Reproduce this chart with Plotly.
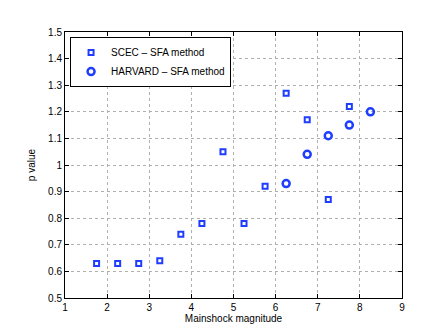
import plotly.graph_objects as go

# SCEC - SFA method
scec_mag = [1.75, 2.25, 2.75, 3.25, 3.75, 4.25, 4.75, 5.25, 5.75, 6.25, 6.75, 7.25, 7.75]
scec_p = [0.63, 0.63, 0.63, 0.64, 0.74, 0.78, 1.05, 0.78, 0.92, 1.27, 1.17, 0.87, 1.22]

# HARVARD - SFA method
harv_mag = [6.25, 6.75, 7.25, 7.75, 8.25]
harv_p = [0.93, 1.04, 1.11, 1.15, 1.20]

y_ticks = [0.5, 0.6, 0.7, 0.8, 0.9, 1.0, 1.1, 1.2, 1.3, 1.4, 1.5]
y_labels = ["0.5", "0.6", "0.7", "0.8", "0.9", "1", "1.1", "1.2", "1.3", "1.4", "1.5"]

blue = "#1f3dff"

fig = go.Figure()
fig.add_trace(go.Scatter(x=scec_mag, y=scec_p, mode="markers", name="SCEC \u2013 SFA method",
                         marker=dict(symbol="square-open", size=5, color=blue, line=dict(width=2, color=blue))))
fig.add_trace(go.Scatter(x=harv_mag, y=harv_p, mode="markers", name="HARVARD \u2013 SFA method",
                         marker=dict(symbol="circle-open", size=7, color=blue, line=dict(width=2.5, color=blue))))

axis_common = dict(showline=True, linecolor="black", linewidth=1, mirror="ticks",
                   ticks="inside", ticklen=4, tickcolor="black", automargin=False,
                   showgrid=True, gridcolor="#b0b0b0", griddash="dot", gridwidth=1,
                   zeroline=False, tickfont=dict(size=10, color="black"))

fig.update_xaxes(range=[1, 9], dtick=1, tick0=1,
                 title=dict(text="Mainshock magnitude", font=dict(size=10, color="black"), standoff=2),
                 **axis_common)
fig.update_yaxes(range=[0.5, 1.5], tickvals=y_ticks, ticktext=y_labels,
                 title=dict(text="p value", font=dict(size=10, color="black"), standoff=10),
                 **axis_common)

fig.update_layout(
    width=436, height=327,
    margin=dict(l=57, r=42, t=24, b=37),
    paper_bgcolor="white", plot_bgcolor="white",
    font=dict(family="Liberation Sans, Arial, sans-serif", size=10, color="black"),
    legend=dict(x=0.015, y=0.981, xanchor="left", yanchor="top",
                bgcolor="white", bordercolor="black", borderwidth=1,
                font=dict(size=10), tracegroupgap=0),
    showlegend=True,
)

fig.write_html("out.html")
